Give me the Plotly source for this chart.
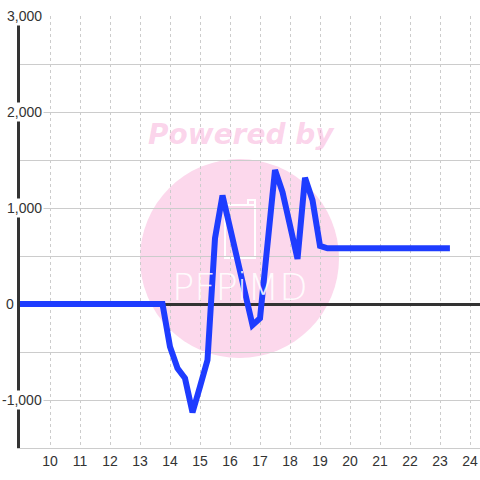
import plotly.graph_objects as go

# ---- data ----
x_vals = [9, 13.75, 14.0, 14.25, 14.5, 14.75, 15.0, 15.25, 15.5, 15.75,
          16.0, 16.25, 16.5, 16.75, 17.0, 17.25, 17.5, 17.75, 18.0, 18.25,
          18.5, 18.75, 19.0, 19.25, 20, 21, 22, 23, 23.33]
y_vals = [0, 0, -445, -670, -774, -1130, -861, -583, 684, 1130,
          795, 455, 115, -220, -149, 701, 1395, 1165, 800, 470,
          1315, 1080, 605, 580, 580, 580, 580, 580, 580]

x_ticks = list(range(10, 25))
y_tick_vals = [3000, 2000, 1000, 0, -1000]
y_tick_text = ["3,000", "2,000", "1,000", "0", "-1,000"]

W, H = 480, 480
L_WIN, T_WIN, R_WIN, B_WIN = 20, 16, 480, 448
PW, PH = R_WIN - L_WIN, B_WIN - T_WIN

def px(xp):
    return (xp - L_WIN) / PW

def py(yp):
    return (B_WIN - yp) / PH

fig = go.Figure()
fig.add_trace(go.Scatter(
    x=x_vals, y=y_vals, mode="lines",
    line=dict(color="#1e3cff", width=6),
    hoverinfo="skip", showlegend=False,
))

shapes = [
    dict(type="circle", xref="paper", yref="paper", layer="below",
         x0=px(140), x1=px(339), y0=py(358), y1=py(159),
         fillcolor="#fcd8ec", line=dict(width=0)),
    dict(type="rect", xref="paper", yref="paper", layer="below",
         x0=px(225), x1=px(255), y0=py(258), y1=py(205),
         line=dict(color="white", width=2)),
    dict(type="rect", xref="paper", yref="paper", layer="below",
         x0=px(248), x1=px(255), y0=py(205), y1=py(200),
         line=dict(color="white", width=2)),
]

annotations = [
    dict(text="Powered by", xref="paper", yref="paper", x=px(241), y=py(134),
         showarrow=False, xanchor="center", yanchor="middle",
         font=dict(family="DejaVu Sans", size=28, color="rgba(247,160,210,0.45)",
                   weight="bold", style="italic")),
    dict(text="PFPiMD", xref="paper", yref="paper", x=px(240), y=py(287),
         showarrow=False, xanchor="center", yanchor="middle",
         font=dict(family="DejaVu Sans", size=37, color="rgba(255,255,255,0.9)",
                   weight=200)),
]
for v, t in zip(y_tick_vals, y_tick_text):
    right = 16 if v == 0 else 44
    annotations.append(dict(
        text=t, xref="paper", yref="y", x=px(right), y=v,
        showarrow=False, xanchor="right", yanchor="middle",
        bgcolor="white" if v != 0 else "rgba(0,0,0,0)", borderpad=1,
        font=dict(family="Liberation Sans", size=14, color="#333"),
    ))

fig.update_layout(
    width=W, height=H,
    margin=dict(l=L_WIN, r=W - R_WIN, t=T_WIN, b=H - B_WIN, autoexpand=False),
    paper_bgcolor="white", plot_bgcolor="white",
    shapes=shapes, annotations=annotations,
    font=dict(family="Liberation Sans", size=14, color="#333"),
    xaxis=dict(range=[9, 24.333], tickvals=x_ticks, showgrid=True,
               griddash="dot", gridcolor="#cccccc", gridwidth=1,
               zeroline=False, showline=True, linecolor="#cccccc", linewidth=1,
               ticks="", tickfont=dict(size=14, color="#333"),
               layer="below traces", fixedrange=True, automargin=False),
    yaxis=dict(range=[-1500, 3000], dtick=500, showgrid=True,
               gridcolor="#cccccc", gridwidth=1, showticklabels=False,
               zeroline=True, zerolinecolor="#333", zerolinewidth=3,
               showline=True, linecolor="#333", linewidth=3,
               layer="below traces", fixedrange=True, automargin=False),
)

fig.write_html(
    "out.html",
    config={"displayModeBar": False},
    post_script="document.body.style.margin='0';document.body.style.padding='0';",
)
